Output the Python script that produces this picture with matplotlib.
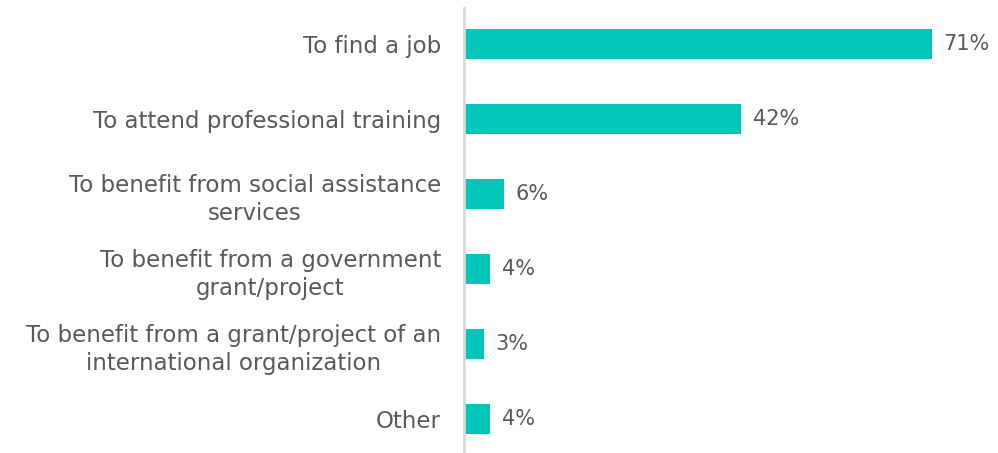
import matplotlib.pyplot as plt
from matplotlib.transforms import offset_copy

categories = [
    "To find a job",
    "To attend professional training",
    "To benefit from social assistance\nservices",
    "To benefit from a government\ngrant/project",
    "To benefit from a grant/project of an\ninternational organization",
    "Other",
]
values = [71, 42, 6, 4, 3, 4]
value_labels = [f"{v}%" for v in values]

bar_color = "#00C5B8"
text_color = "#595959"
axis_color = "#D9D9D9"

plt.rcParams["font.family"] = ["DejaVu Sans"]

fig = plt.figure(figsize=(9.98, 4.53), dpi=100)
ax = fig.add_axes([464 / 998, 0, 527 / 998, 445 / 453])

y = list(range(len(categories)))
bars = ax.barh(y, values, height=0.4, color=bar_color)
ax.set_ylim(len(categories) - 0.55, -0.48)
ax.set_xlim(0, 80)

ax.set_yticks(y)
ax.set_yticklabels(categories, fontsize=16.5, color=text_color,
                   ha="right", multialignment="center", linespacing=1.32)
ax.tick_params(axis="y", length=0, pad=16.5)
ax.set_xticks([])

for s in ["top", "right", "bottom"]:
    ax.spines[s].set_visible(False)
ax.spines["left"].set_color(axis_color)
ax.spines["left"].set_linewidth(2)

trans = offset_copy(ax.transData, fig=fig, x=12, y=0, units="dots")
for yi, v, lab in zip(y, values, value_labels):
    ax.text(v, yi, lab, transform=trans, va="center", ha="left",
            fontsize=15, color=text_color)

fig.savefig("out.png", dpi=100)
